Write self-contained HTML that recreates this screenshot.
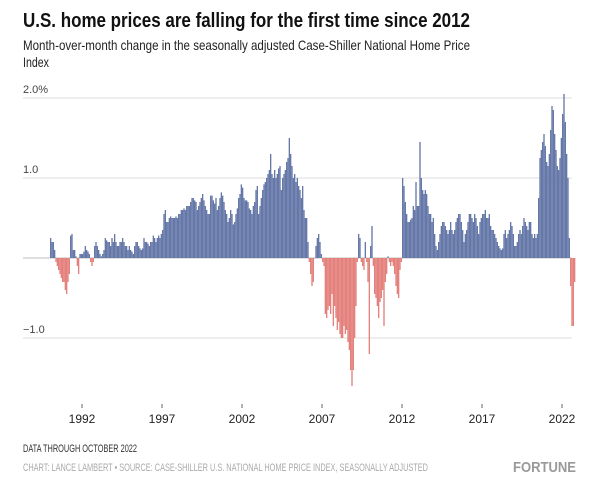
<!DOCTYPE html>
<html><head><meta charset="utf-8"><style>
html,body{margin:0;padding:0;background:#fff;}
svg{display:block;font-family:"Liberation Sans",sans-serif;}
.narrow{font-family:"Liberation Sans Narrow","Liberation Sans",sans-serif;}
</style></head><body>
<svg id="chart" width="600" height="492" viewBox="0 0 600 492">
<text x="23" y="27" font-size="20" font-weight="bold" fill="#111" textLength="447" lengthAdjust="spacingAndGlyphs">U.S. home prices are falling for the first time since 2012</text>
<text class="narrow" x="23" y="50" font-size="14" fill="#222" textLength="447" lengthAdjust="spacingAndGlyphs">Month-over-month change in the seasonally adjusted Case-Shiller National Home Price</text>
<text class="narrow" x="23" y="67" font-size="14" fill="#222" textLength="26" lengthAdjust="spacingAndGlyphs">Index</text>
<g id="grid"></g>
<g id="bars"></g>
<g id="xaxis"></g>
<text class="narrow" x="23" y="452" font-size="11" fill="#333" textLength="114" lengthAdjust="spacingAndGlyphs">DATA THROUGH OCTOBER 2022</text>
<text class="narrow" x="23" y="471" font-size="11" fill="#aaa" textLength="405" lengthAdjust="spacingAndGlyphs">CHART: LANCE LAMBERT • SOURCE: CASE-SHILLER U.S. NATIONAL HOME PRICE INDEX, SEASONALLY ADJUSTED</text>
<text class="narrow" x="513" y="472" font-size="15" font-weight="bold" fill="#999" textLength="63" lengthAdjust="spacingAndGlyphs">FORTUNE</text>
</svg>
<script>
const startYear = 1990;
const yTicks = [2, 1, -1];
const yTickLabels = ["2.0%", "1.0", "-1.0"];
const xTickYears = [1992, 1997, 2002, 2007, 2012, 2017, 2022];
const v1990 = [0.25,0.2,0.2,0.1,-0.05,-0.1,-0.15,-0.2,-0.25,-0.3,-0.3,-0.4];
const v1991 = [-0.45,-0.3,-0.2,0.28,0.3,0.1,0.1,0.02,-0.1,-0.2,0.05,0.05];
const v1992 = [0.05,0.08,0.15,0.1,0.08,0.05,-0.05,-0.1,-0.05,0.15,0.2,0.15];
const v1993 = [0.1,0.05,0.02,0.05,0.1,0.25,0.22,0.2,0.2,0.15,0.25,0.2];
const v1994 = [0.3,0.2,0.15,0.15,0.2,0.2,0.25,0.2,0.15,0.15,0.1,0.15];
const v1995 = [0.1,0.08,0.05,0.15,0.2,0.2,0.15,0.12,0.1,0.12,0.25,0.2];
const v1996 = [0.2,0.18,0.15,0.2,0.2,0.28,0.25,0.2,0.25,0.28,0.25,0.3];
const v1997 = [0.35,0.55,0.6,0.45,0.45,0.5,0.52,0.5,0.5,0.5,0.52,0.5];
const v1998 = [0.55,0.55,0.6,0.6,0.62,0.6,0.65,0.65,0.65,0.7,0.75,0.75];
const v1999 = [0.72,0.7,0.6,0.65,0.7,0.75,0.8,0.72,0.65,0.6,0.55,0.55];
const v2000 = [0.78,0.78,0.72,0.68,0.75,0.6,0.65,0.75,0.82,0.78,0.7,0.6];
const v2001 = [0.55,0.45,0.5,0.6,0.55,0.42,0.45,0.55,0.62,0.75,0.8,0.92];
const v2002 = [0.88,0.75,0.72,0.72,0.7,0.62,0.6,0.55,0.65,0.7,0.85,0.9];
const v2003 = [0.55,0.65,0.75,0.85,0.92,0.95,1.0,1.05,1.1,1.3,1.05,1.0];
const v2004 = [1.1,1.0,1.05,1.12,1.15,0.85,1.0,1.05,1.1,1.2,1.25,1.5];
const v2005 = [1.3,1.15,1.0,1.05,0.95,1.0,0.9,0.85,0.75,0.9,0.6,0.5];
const v2006 = [0.5,0.2,-0.05,-0.2,-0.35,-0.3,0.0,0.15,0.25,0.3,0.2,0.05];
const v2007 = [-0.05,-0.1,-0.7,-0.75,-0.65,-0.6,-0.7,-0.45,-0.85,-0.6,-0.75,-0.9];
const v2008 = [-0.8,-0.95,-1.0,-1.0,-0.85,-0.95,-0.9,-1.05,-1.15,-1.4,-1.6,-1.4];
const v2009 = [-1.0,-0.6,-0.05,0.3,0.25,-0.05,-0.1,-0.15,0.2,-0.05,-0.3,-1.2];
const v2010 = [0.15,0.4,-0.1,-0.45,-0.5,-0.6,-0.75,-0.55,-0.5,-0.4,-0.85,-0.3];
const v2011 = [-0.2,0.02,-0.05,-0.1,-0.05,-0.1,-0.2,-0.35,-0.45,-0.5,-0.15,-0.05];
const v2012 = [1.0,0.9,0.7,0.55,0.45,0.45,0.48,0.5,0.65,0.6,0.95,0.65];
const v2013 = [0.65,1.45,1.0,0.85,0.8,0.85,0.8,0.65,0.55,0.55,0.45,0.5];
const v2014 = [0.3,0.15,0.1,0.2,0.3,0.4,0.45,0.45,0.4,0.35,0.3,0.35];
const v2015 = [0.45,0.35,0.3,0.35,0.45,0.5,0.55,0.55,0.45,0.35,0.2,0.3];
const v2016 = [0.35,0.45,0.55,0.55,0.5,0.45,0.55,0.5,0.4,0.3,0.45,0.5];
const v2017 = [0.55,0.55,0.6,0.5,0.5,0.55,0.4,0.35,0.35,0.3,0.25,0.2];
const v2018 = [0.15,0.12,0.1,0.12,0.3,0.35,0.25,0.3,0.35,0.45,0.4,0.3];
const v2019 = [0.15,0.15,0.2,0.3,0.35,0.3,0.4,0.5,0.45,0.4,0.35,0.45];
const v2020 = [0.45,0.3,0.25,0.3,0.25,0.3,0.75,1.25,1.35,1.45,1.55,1.4];
const v2021 = [1.2,1.15,1.3,1.6,1.9,1.85,1.55,1.35,1.15,1.1,1.25,1.5];
const v2022 = [1.8,2.05,1.7,1.3,1.0,0.25,-0.35,-0.85,-0.85,-0.3];

const values = [].concat(v1990,v1991,v1992,v1993,v1994,v1995,v1996,v1997,v1998,v1999,v2000,v2001,v2002,v2003,v2004,v2005,v2006,v2007,v2008,v2009,v2010,v2011,v2012,v2013,v2014,v2015,v2016,v2017,v2018,v2019,v2020,v2021,v2022);

const NS = "http://www.w3.org/2000/svg";
const x0 = 50, pxPerYear = 16, y0 = 258, pxPerUnit = 80;
function xScale(monthIndex){ return x0 + monthIndex * pxPerYear / 12; }
function yScale(v){ return y0 - v * pxPerUnit; }

const grid = document.getElementById('grid');
yTicks.forEach((t, i) => {
  const ln = document.createElementNS(NS, 'line');
  ln.setAttribute('x1', 23); ln.setAttribute('x2', 572);
  ln.setAttribute('y1', yScale(t)); ln.setAttribute('y2', yScale(t));
  ln.setAttribute('stroke', '#ddd'); ln.setAttribute('stroke-width', 1);
  
  
  grid.appendChild(ln);
  const tx = document.createElementNS(NS, 'text');
  tx.setAttribute('x', 23); tx.setAttribute('y', yScale(t) - 5);
  tx.setAttribute('font-size', 11); tx.setAttribute('fill', '#444');
  tx.setAttribute('class', 'narrow');
  tx.textContent = yTickLabels[i].replace('-', '\u2212');
  
  
  grid.appendChild(tx);
});

const bars = document.getElementById('bars');
const bw = pxPerYear / 12;
values.forEach((v, i) => {
  const r = document.createElementNS(NS, 'rect');
  const y = Math.min(yScale(v), y0);
  r.setAttribute('x', xScale(i));
  r.setAttribute('y', y);
  r.setAttribute('width', bw);
  r.setAttribute('height', Math.max(Math.abs(yScale(v) - y0), 0.3));
  r.setAttribute('fill', v >= 0 ? '#6578a8' : '#e4817c');
  
  
  bars.appendChild(r);
});
const zl = document.createElementNS(NS, 'line');
zl.setAttribute('x1', 23); zl.setAttribute('x2', 572);
zl.setAttribute('y1', y0); zl.setAttribute('y2', y0);
zl.setAttribute('stroke', '#aaa'); zl.setAttribute('stroke-width', 0.8);


bars.insertBefore(zl, bars.firstChild);

const xaxis = document.getElementById('xaxis');
xTickYears.forEach(yr => {
  const x = xScale((yr - startYear) * 12);
  const tk = document.createElementNS(NS, 'line');
  tk.setAttribute('x1', x); tk.setAttribute('x2', x);
  tk.setAttribute('y1', 404); tk.setAttribute('y2', 408);
  tk.setAttribute('stroke', '#666'); tk.setAttribute('stroke-width', 1);
  
  
  xaxis.appendChild(tk);
  const tx = document.createElementNS(NS, 'text');
  tx.setAttribute('x', x); tx.setAttribute('y', 423);
  tx.setAttribute('text-anchor', 'middle');
  tx.setAttribute('font-size', 12); tx.setAttribute('fill', '#222');
  tx.textContent = yr;
  
  
  xaxis.appendChild(tx);
});
</script>
</body></html>
